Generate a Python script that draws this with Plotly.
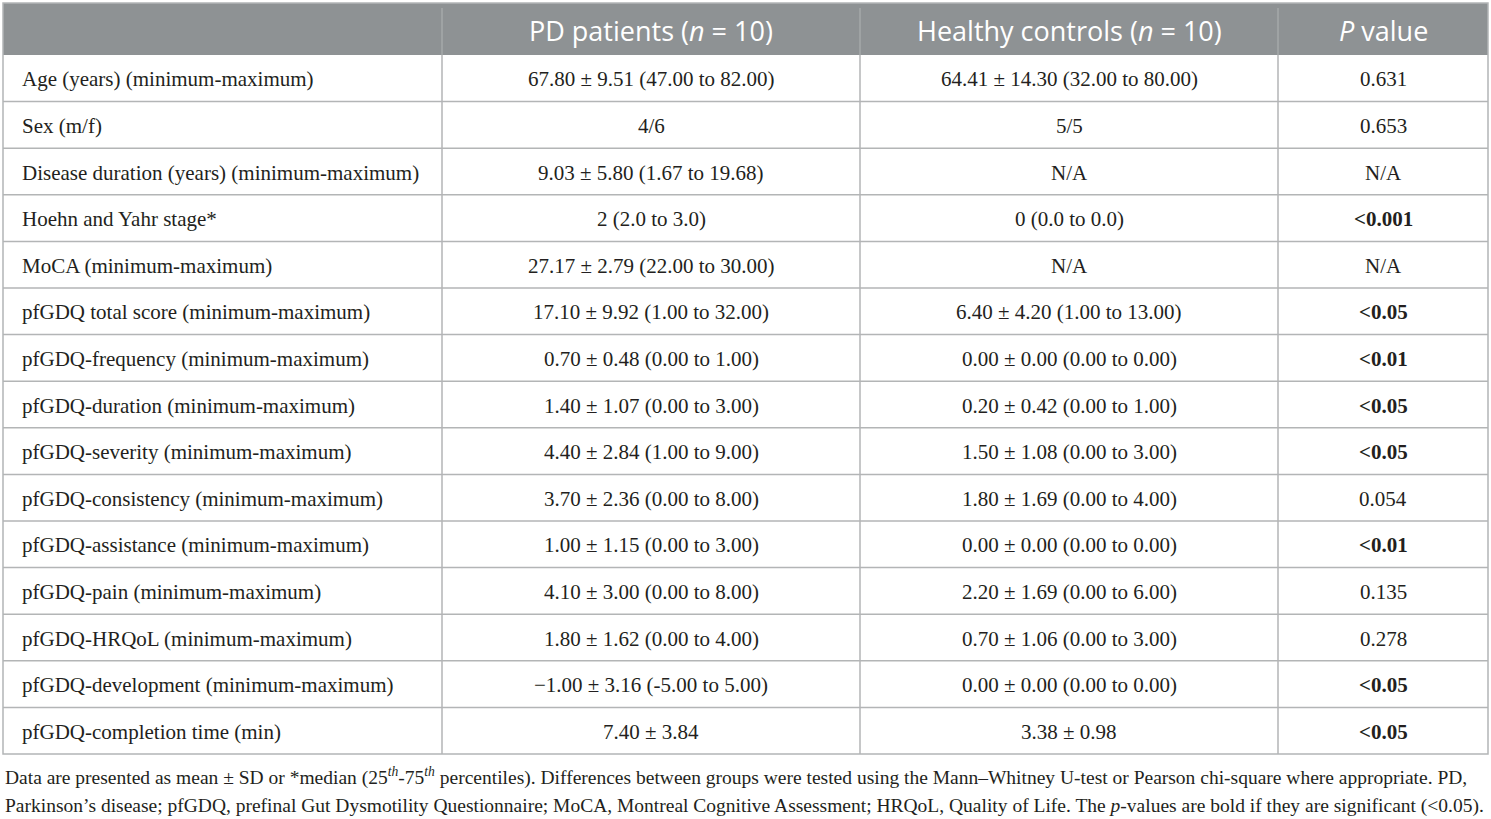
import plotly.graph_objects as go

# table contents
header = ["", "PD patients (<i>n</i> = 10)", "Healthy controls (<i>n</i> = 10)", "<i>P</i> value"]

variables = [
    "Age (years) (minimum-maximum)",
    "Sex (m/f)",
    "Disease duration (years) (minimum-maximum)",
    "Hoehn and Yahr stage*",
    "MoCA (minimum-maximum)",
    "pfGDQ total score (minimum-maximum)",
    "pfGDQ-frequency (minimum-maximum)",
    "pfGDQ-duration (minimum-maximum)",
    "pfGDQ-severity (minimum-maximum)",
    "pfGDQ-consistency (minimum-maximum)",
    "pfGDQ-assistance (minimum-maximum)",
    "pfGDQ-pain (minimum-maximum)",
    "pfGDQ-HRQoL (minimum-maximum)",
    "pfGDQ-development (minimum-maximum)",
    "pfGDQ-completion time (min)",
]

pd_patients = [
    "67.80 ± 9.51 (47.00 to 82.00)",
    "4/6",
    "9.03 ± 5.80 (1.67 to 19.68)",
    "2 (2.0 to 3.0)",
    "27.17 ± 2.79 (22.00 to 30.00)",
    "17.10 ± 9.92 (1.00 to 32.00)",
    "0.70 ± 0.48 (0.00 to 1.00)",
    "1.40 ± 1.07 (0.00 to 3.00)",
    "4.40 ± 2.84 (1.00 to 9.00)",
    "3.70 ± 2.36 (0.00 to 8.00)",
    "1.00 ± 1.15 (0.00 to 3.00)",
    "4.10 ± 3.00 (0.00 to 8.00)",
    "1.80 ± 1.62 (0.00 to 4.00)",
    "−1.00 ± 3.16 (-5.00 to 5.00)",
    "7.40 ± 3.84",
]

healthy_controls = [
    "64.41 ± 14.30 (32.00 to 80.00)",
    "5/5",
    "N/A",
    "0 (0.0 to 0.0)",
    "N/A",
    "6.40 ± 4.20 (1.00 to 13.00)",
    "0.00 ± 0.00 (0.00 to 0.00)",
    "0.20 ± 0.42 (0.00 to 1.00)",
    "1.50 ± 1.08 (0.00 to 3.00)",
    "1.80 ± 1.69 (0.00 to 4.00)",
    "0.00 ± 0.00 (0.00 to 0.00)",
    "2.20 ± 1.69 (0.00 to 6.00)",
    "0.70 ± 1.06 (0.00 to 3.00)",
    "0.00 ± 0.00 (0.00 to 0.00)",
    "3.38 ± 0.98",
]

p_values = ["0.631", "0.653", "N/A", "<0.001", "N/A", "<0.05", "<0.01", "<0.05",
            "<0.05", "0.054", "<0.01", "0.135", "0.278", "<0.05", "<0.05"]
significant = [False, False, False, True, False, True, True, True,
               True, False, True, False, False, True, True]

footnote_lines = [
    "Data are presented as mean ± SD or *median (25<sup><i>th</i></sup>-75<sup><i>th</i></sup> percentiles). "
    "Differences between groups were tested using the Mann–Whitney U-test or Pearson chi-square where appropriate. PD,",
    "Parkinson’s disease; pfGDQ, prefinal Gut Dysmotility Questionnaire; MoCA, Montreal Cognitive Assessment; "
    "HRQoL, Quality of Life. The <i>p</i>-values are bold if they are significant (&lt;0.05).",
]

# layout in page pixels
W, H = 1491, 819
left, right, top = 3, 1488, 3
header_bottom = 55
row_h = 46.6
col_edges = [left, 442, 860, 1278, right]
bottom = header_bottom + row_h * len(variables)

serif = "Liberation Serif, Times New Roman, serif"
sans = "Open Sans, Noto Sans, sans-serif"
line_col = "#b3b5b6"
text_col = "#231f20"

fig = go.Figure()

shapes = []
# header band
shapes.append(dict(type="rect", x0=left, x1=right, y0=top, y1=header_bottom,
                   fillcolor="#8e9294", line=dict(width=0), layer="below"))
# horizontal rules
for i in range(1, len(variables)):
    y = header_bottom + i * row_h
    shapes.append(dict(type="line", x0=left, x1=right, y0=y, y1=y, line=dict(color=line_col, width=1.5)))
# vertical rules (lighter in the header)
for x in col_edges[1:-1]:
    shapes.append(dict(type="line", x0=x, x1=x, y0=header_bottom, y1=bottom, line=dict(color=line_col, width=1.5)))
    shapes.append(dict(type="line", x0=x, x1=x, y0=top + 5, y1=header_bottom, line=dict(color="#a5a8aa", width=1.5)))
# outer border
shapes.append(dict(type="rect", x0=left, x1=right, y0=top, y1=bottom, line=dict(color=line_col, width=1.5)))

annotations = []
# header text
for j, h in enumerate(header):
    if not h:
        continue
    annotations.append(dict(x=(col_edges[j] + col_edges[j + 1]) / 2, y=(top + header_bottom) / 2 + 1, text=h,
                            xanchor="center", yanchor="middle", showarrow=False,
                            font=dict(family=sans, size=27, color="white")))

# body text
columns = [variables, pd_patients, healthy_controls,
           ["<b>%s</b>" % p.replace("<", "&lt;") if s else p.replace("<", "&lt;")
            for p, s in zip(p_values, significant)]]
for j, col in enumerate(columns):
    for i, txt in enumerate(col):
        yc = header_bottom + (i + 0.5) * row_h + 1
        if j == 0:
            annotations.append(dict(x=col_edges[0] + 17, y=yc, text=txt, xanchor="left", yanchor="middle",
                                    showarrow=False, font=dict(family=serif, size=21, color=text_col)))
        else:
            annotations.append(dict(x=(col_edges[j] + col_edges[j + 1]) / 2, y=yc, text=txt,
                                    xanchor="center", yanchor="middle", showarrow=False,
                                    font=dict(family=serif, size=21, color=text_col)))

# footnote
for k, line in enumerate(footnote_lines):
    annotations.append(dict(x=left, y=776 + k * 30, text=line, xanchor="left", yanchor="middle",
                            showarrow=False, align="left", font=dict(family=serif, size=19.5, color=text_col)))

fig.update_layout(
    width=W, height=H,
    margin=dict(l=0, r=0, t=0, b=0),
    paper_bgcolor="white", plot_bgcolor="white",
    xaxis=dict(range=[0, W], visible=False, fixedrange=True),
    yaxis=dict(range=[H, 0], visible=False, fixedrange=True),
    shapes=shapes, annotations=annotations,
    showlegend=False,
)

# drop the browser's default body margin so the figure sits at the page corner
fig.write_html("out.html", config={"displayModeBar": False},
               post_script="document.body.style.margin='0';document.body.style.overflow='hidden';")
